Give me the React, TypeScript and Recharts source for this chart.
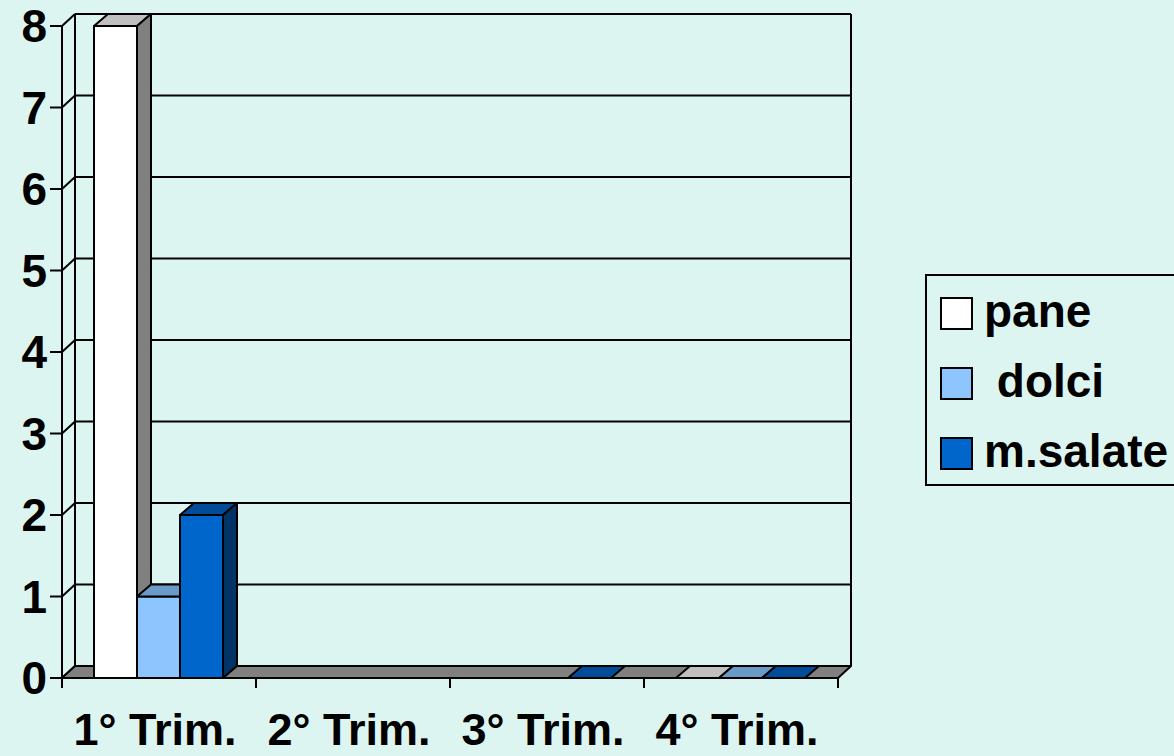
import React from 'react';
import { BarChart, Bar, XAxis, YAxis, CartesianGrid, Legend } from 'recharts';

const categories = ['1° Trim.', '2° Trim.', '3° Trim.', '4° Trim.'];
const paneValues: (number | null)[] = [8, null, null, 0];
const dolciValues: (number | null)[] = [1, null, null, 0];
const salateValues: (number | null)[] = [2, null, 0, 0];
const yTicks = [0, 1, 2, 3, 4, 5, 6, 7, 8];
const seriesNames = ['pane', ' dolci', 'm.salate'];
const seriesKeys = ['pane', 'dolci', 'salate'];

const COLORS = [
  { front: '#FFFFFF', top: '#C0C0C0', side: '#808080' },
  { front: '#8EC5FF', top: '#6A9AC8', side: '#4D7EB0' },
  { front: '#0066CC', top: '#004C99', side: '#003366' },
];

const data = categories.map((c, i) => ({
  cat: c,
  pane: paneValues[i],
  dolci: dolciValues[i],
  salate: salateValues[i],
}));

const FONT = '"Liberation Sans", Arial, sans-serif';
const BG = '#DDF5F1';
const DX = 14;
const DY = 12;
const WDX = 13;
const WDY = 12;

const make3D = (key: string, c: { front: string; top: string; side: string }) => (props: any) => {
  const { x, y, width, height, payload } = props;
  if (!payload || payload[key] == null) return <g />;
  const s = { stroke: '#000', strokeWidth: 2, strokeLinejoin: 'round' as const };
  const topPts = `${x},${y} ${x + DX},${y - DY} ${x + width + DX},${y - DY} ${x + width},${y}`;
  if (!height || Math.abs(height) < 0.5) {
    return <polygon points={topPts} fill={c.top} {...s} />;
  }
  const sidePts = `${x + width},${y} ${x + width + DX},${y - DY} ${x + width + DX},${y + height - DY} ${x + width},${y + height}`;
  return (
    <g>
      <rect x={x} y={y} width={width} height={height} fill={c.front} {...s} />
      <polygon points={topPts} fill={c.top} {...s} />
      <polygon points={sidePts} fill={c.side} {...s} />
    </g>
  );
};

const renderGrid = (props: any) => {
  const { x1, x2, y1, index, horizontalPoints } = props;
  const pts: number[] = horizontalPoints || [y1];
  const top = Math.min(...pts);
  const bottom = Math.max(...pts);
  const els: any[] = [];
  if (index === 0) {
    els.push(
      <line key="lv" x1={x1 + WDX} y1={top - WDY} x2={x1 + WDX} y2={bottom - WDY} stroke="#000" strokeWidth={2} />,
      <line key="rv" x1={x2 + WDX} y1={top - WDY} x2={x2 + WDX} y2={bottom - WDY} stroke="#000" strokeWidth={2} />
    );
  }
  els.push(
    <line key="bl" x1={x1 + WDX} y1={y1 - WDY} x2={x2 + WDX} y2={y1 - WDY} stroke="#000" strokeWidth={2} />,
    <line key="dg" x1={x1} y1={y1} x2={x1 + WDX} y2={y1 - WDY} stroke="#000" strokeWidth={2} />
  );
  if (Math.abs(y1 - bottom) < 0.5) {
    els.push(
      <polygon
        key="floor"
        points={`${x1},${y1} ${x1 + WDX},${y1 - WDY} ${x2 + WDX},${y1 - WDY} ${x2},${y1}`}
        fill="#808080"
        stroke="#000"
        strokeWidth={2}
        strokeLinejoin="round"
      />
    );
  }
  return <g key={`grid-${index}`}>{els}</g>;
};

const XTick = (props: any) => {
  const { x, y, payload, index } = props;
  const off = payload && payload.offset != null ? payload.offset : 97;
  const axisY = y - 10;
  return (
    <g>
      <line x1={x - off} y1={axisY} x2={x - off} y2={axisY + 10} stroke="#000" strokeWidth={2} />
      {index === categories.length - 1 && (
        <line x1={x + off} y1={axisY} x2={x + off} y2={axisY + 10} stroke="#000" strokeWidth={2} />
      )}
      <text
        x={x - 4}
        y={y + 57}
        textAnchor="middle"
        fontSize={45}
        fontWeight="bold"
        fontFamily={FONT}
        fill="#000"
      >
        {payload.value}
      </text>
    </g>
  );
};

const LegendBox = () => (
  <svg width={260} height={214} style={{ display: 'block', overflow: 'visible' }}>
    <rect x={1} y={1} width={300} height={210} fill="none" stroke="#000" strokeWidth={2} />
    {seriesNames.map((n, i) => (
      <g key={n}>
        <rect x={16} y={24 + 70 * i} width={31} height={31} fill={COLORS[i].front} stroke="#000" strokeWidth={2} />
        <text
          x={59}
          y={53 + 70 * i}
          fontSize={46}
          fontWeight="bold"
          fontFamily={FONT}
          fill="#000"
          style={{ whiteSpace: 'pre' }}
        >
          {n}
        </text>
      </g>
    ))}
  </svg>
);

export default function App() {
  return (
    <div
      style={{
        position: 'fixed',
        left: 0,
        top: 0,
        width: 1174,
        height: 756,
        background: BG,
        fontFamily: FONT,
        overflow: 'hidden',
      }}
    >
      <BarChart
        width={1174}
        height={756}
        data={data}
        margin={{ top: 26, right: 336, bottom: 0, left: 0 }}
        barCategoryGap={32}
        barGap={0}
      >
        <CartesianGrid vertical={false} horizontal={renderGrid} />
        <XAxis
          dataKey="cat"
          height={78}
          axisLine={{ stroke: '#000', strokeWidth: 2 }}
          tickLine={false}
          tickSize={10}
          tickMargin={0}
          tick={<XTick />}
          interval={0}
        />
        <YAxis
          width={62}
          domain={[0, 8]}
          ticks={yTicks}
          interval={0}
          axisLine={{ stroke: '#000', strokeWidth: 2 }}
          tickLine={{ stroke: '#000', strokeWidth: 2 }}
          tickSize={12}
          tickMargin={3}
          tick={{ fontSize: 46, fontWeight: 'bold', fill: '#000', fontFamily: FONT }}
        />
        <Legend
          layout="vertical"
          align="center"
          verticalAlign="middle"
          content={() => <LegendBox />}
          wrapperStyle={{ position: 'absolute', left: 925, top: 274, width: 260, height: 214 }}
        />
        {seriesKeys.map((k, i) => (
          <Bar
            key={k}
            dataKey={k}
            name={seriesNames[i]}
            fill={COLORS[i].front}
            isAnimationActive={false}
            shape={make3D(k, COLORS[i])}
          />
        ))}
      </BarChart>
    </div>
  );
}
